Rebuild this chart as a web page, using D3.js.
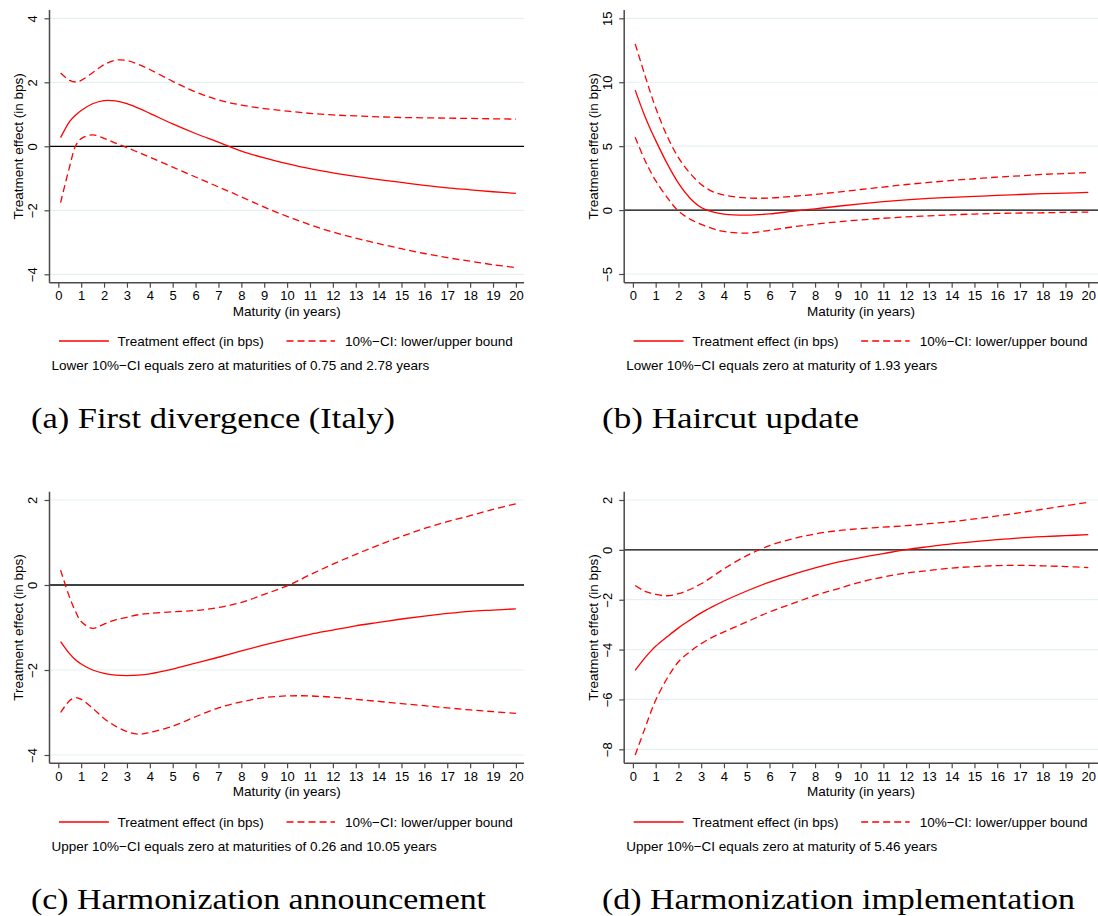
<!DOCTYPE html>
<html>
<head>
<meta charset="utf-8">
<script src="https://cdn.jsdelivr.net/npm/d3@7/dist/d3.min.js"></script>
<style>
  body { margin: 0; background: #fff; }
  svg { display: block; }
  text { font-family: "Liberation Sans", Arial, Helvetica, sans-serif; fill: #000; }
  text.caption { font-family: "Liberation Serif", "Times New Roman", serif; }
</style>
</head>
<body>
<svg id="chart" width="1098" height="916"></svg>
<script>
const maturities = [0.1, 0.5, 0.75, 1, 1.5, 2, 2.5, 3, 3.5, 4, 5, 6, 7, 8, 9, 10, 11, 12, 13, 14, 15, 16, 17, 18, 19, 20];

// (a) First divergence (Italy)
const effectA = [0.27, 0.78, 0.97, 1.12, 1.33, 1.43, 1.42, 1.33, 1.19, 1.03, 0.70, 0.40, 0.13, -0.15, -0.36, -0.54, -0.70, -0.83, -0.94, -1.04, -1.13, -1.22, -1.30, -1.36, -1.42, -1.47];
const upperA = [2.29, 2.06, 2.01, 2.06, 2.30, 2.55, 2.69, 2.68, 2.56, 2.40, 2.03, 1.70, 1.45, 1.29, 1.18, 1.10, 1.03, 0.98, 0.95, 0.92, 0.90, 0.89, 0.88, 0.87, 0.86, 0.85];
const lowerA = [-1.76, -0.62, 0.0, 0.24, 0.36, 0.25, 0.10, -0.04, -0.19, -0.34, -0.65, -0.96, -1.27, -1.58, -1.90, -2.19, -2.45, -2.68, -2.87, -3.04, -3.20, -3.35, -3.48, -3.59, -3.70, -3.79];

// (b) Haircut update
const effectB = [9.38, 7.45, 6.4, 5.45, 3.65, 2.1, 0.95, 0.2, -0.15, -0.32, -0.4, -0.3, -0.1, 0.1, 0.3, 0.49, 0.66, 0.8, 0.91, 0.99, 1.07, 1.15, 1.22, 1.28, 1.33, 1.38];
const upperB = [13.0, 10.7, 9.3, 8.0, 5.8, 4.1, 2.9, 2.0, 1.45, 1.17, 0.95, 0.94, 1.07, 1.22, 1.41, 1.61, 1.80, 2.0, 2.16, 2.32, 2.45, 2.58, 2.68, 2.79, 2.86, 2.94];
const lowerB = [5.7, 4.0, 3.1, 2.3, 1.0, -0.08, -0.7, -1.12, -1.45, -1.67, -1.8, -1.58, -1.32, -1.10, -0.92, -0.77, -0.64, -0.53, -0.45, -0.37, -0.31, -0.26, -0.23, -0.21, -0.18, -0.16];

// (c) Harmonization announcement
const effectC = [-1.33, -1.62, -1.76, -1.86, -2.0, -2.08, -2.12, -2.13, -2.12, -2.09, -1.98, -1.84, -1.70, -1.55, -1.41, -1.28, -1.16, -1.06, -0.96, -0.88, -0.80, -0.73, -0.67, -0.62, -0.59, -0.56];
const upperC = [0.35, -0.30, -0.62, -0.86, -1.02, -0.92, -0.82, -0.76, -0.70, -0.67, -0.63, -0.60, -0.53, -0.41, -0.22, -0.02, 0.24, 0.49, 0.72, 0.94, 1.14, 1.33, 1.49, 1.63, 1.78, 1.91];
const lowerC = [-3.0, -2.72, -2.65, -2.69, -2.90, -3.14, -3.32, -3.45, -3.51, -3.47, -3.32, -3.10, -2.89, -2.75, -2.65, -2.61, -2.61, -2.64, -2.69, -2.74, -2.79, -2.84, -2.89, -2.94, -2.98, -3.02];

// (d) Harmonization implementation
const effectD = [-4.83, -4.36, -4.1, -3.87, -3.49, -3.13, -2.82, -2.53, -2.28, -2.05, -1.65, -1.29, -0.99, -0.72, -0.49, -0.31, -0.15, 0.01, 0.13, 0.24, 0.33, 0.41, 0.48, 0.53, 0.57, 0.61];
const upperD = [-1.43, -1.65, -1.73, -1.79, -1.84, -1.76, -1.59, -1.36, -1.07, -0.76, -0.23, 0.17, 0.44, 0.64, 0.77, 0.85, 0.91, 0.97, 1.05, 1.13, 1.24, 1.36, 1.49, 1.63, 1.77, 1.91];
const lowerD = [-8.23, -7.23, -6.6, -6.03, -5.16, -4.49, -4.09, -3.76, -3.50, -3.29, -2.89, -2.49, -2.16, -1.83, -1.56, -1.29, -1.09, -0.93, -0.83, -0.73, -0.67, -0.63, -0.62, -0.64, -0.67, -0.71];

// tick labels
const xTicks = d3.range(0, 21);
const yTicksA = [-4, -2, 0, 2, 4];
const yTicksB = [-5, 0, 5, 10, 15];
const yTicksC = [-4, -2, 0, 2];
const yTicksD = [-8, -6, -4, -2, 0, 2];

// texts
const legendLabels = ['Treatment effect (in bps)', '10%\u2212CI: lower/upper bound'];
const notes = [
  'Lower 10%\u2212CI equals zero at maturities of 0.75 and 2.78 years',
  'Lower 10%\u2212CI equals zero at maturity of 1.93 years',
  'Upper 10%\u2212CI equals zero at maturities of 0.26 and 10.05 years',
  'Upper 10%\u2212CI equals zero at maturity of 5.46 years'
];
const captions = ['(a) First divergence (Italy)', '(b) Haircut update', '(c) Harmonization announcement', '(d) Harmonization implementation'];

// layout of the four panels
const panels = [
  { effect: effectA, upper: upperA, lower: lowerA, yTicks: yTicksA, note: notes[0], caption: captions[0],
    left: 49.5, right: 524, x0: 58.3, x20: 515.9, top: 10, bottom: 282.7, yLo: 274.3, yHi: 18.3,
    legendY: 341, noteY: 365, capX: 31, capY: 428, capW: 364 },
  { effect: effectB, upper: upperB, lower: lowerB, yTicks: yTicksB, note: notes[1], caption: captions[1],
    left: 624.2, right: 1098, x0: 632.9, x20: 1088.3, top: 10, bottom: 282.7, yLo: 274, yHi: 18.3,
    legendY: 341, noteY: 365, capX: 602, capY: 428, capW: 257 },
  { effect: effectC, upper: upperC, lower: lowerC, yTicks: yTicksC, note: notes[2], caption: captions[2],
    left: 49.5, right: 524, x0: 58.3, x20: 515.9, top: 491.7, bottom: 763.3, yLo: 755, yHi: 500,
    legendY: 822, noteY: 846, capX: 31, capY: 909, capW: 455 },
  { effect: effectD, upper: upperD, lower: lowerD, yTicks: yTicksD, note: notes[3], caption: captions[3],
    left: 624.2, right: 1098, x0: 632.9, x20: 1088.3, top: 491.7, bottom: 763.3, yLo: 749.3, yHi: 500,
    legendY: 822, noteY: 846, capX: 602, capY: 909, capW: 473 }
];

const RED = '#ff0000';
const DASH = '7,4';
const AXIS = '#4a4a4a';

const svg = d3.select('#chart');

function minusFmt(v) {
  return v < 0 ? '\u2212' + Math.abs(v) : String(v);
}

function drawPanel(p) {
  const g = svg.append('g');
  const x = d3.scaleLinear().domain([0, 20]).range([p.x0, p.x20]);
  const yMin = d3.min(p.yTicks), yMax = d3.max(p.yTicks);
  const y = d3.scaleLinear().domain([yMin, yMax]).range([p.yLo, p.yHi]);

  // grid lines
  g.selectAll('.grid')
    .data(p.yTicks.filter(v => v !== 0))
    .enter().append('line')
    .attr('x1', p.left).attr('x2', p.right)
    .attr('y1', d => y(d)).attr('y2', d => y(d))
    .attr('stroke', '#e6eff1')
    .attr('stroke-width', 1.2);

  // zero line
  g.append('line')
    .attr('x1', p.left).attr('x2', p.right)
    .attr('y1', y(0)).attr('y2', y(0))
    .attr('stroke', '#000')
    .attr('stroke-width', 1.3);

  // x axis
  const xa = g.append('g')
    .attr('transform', `translate(0,${p.bottom})`)
    .call(d3.axisBottom(x).tickValues(xTicks).tickSize(5).tickPadding(4).tickFormat(d3.format('d')));
  xa.select('.domain').remove();
  xa.selectAll('.tick line').attr('stroke', AXIS).attr('stroke-width', 1.2);
  xa.selectAll('.tick text')
    .attr('dy', 0).attr('y', 17.3)
    .style('font-size', '13px')
    .style('font-family', '"Liberation Sans", Arial, sans-serif')
    .attr('fill', '#000');
  g.append('line')
    .attr('x1', p.left).attr('x2', p.right)
    .attr('y1', p.bottom).attr('y2', p.bottom)
    .attr('stroke', AXIS).attr('stroke-width', 1.5);

  // y axis
  const ya = g.append('g')
    .attr('transform', `translate(${p.left},0)`)
    .call(d3.axisLeft(y).tickValues(p.yTicks).tickSize(5).tickFormat(minusFmt));
  ya.select('.domain').remove();
  ya.selectAll('.tick line').attr('stroke', AXIS).attr('stroke-width', 1.2);
  ya.selectAll('.tick text')
    .attr('transform', 'rotate(-90)')
    .attr('x', 0).attr('y', -12.2).attr('dy', 0)
    .attr('text-anchor', 'middle')
    .style('font-size', '13px')
    .style('font-family', '"Liberation Sans", Arial, sans-serif')
    .attr('fill', '#000');
  g.append('line')
    .attr('x1', p.left).attr('x2', p.left)
    .attr('y1', p.top).attr('y2', p.bottom)
    .attr('stroke', AXIS).attr('stroke-width', 1.5);

  // axis titles
  g.append('text')
    .attr('transform', `translate(${p.left - 26.3},${(p.top + p.bottom) / 2}) rotate(-90)`)
    .attr('text-anchor', 'middle')
    .style('font-size', '13.5px')
    .text('Treatment effect (in bps)');
  g.append('text')
    .attr('x', (p.left + p.right) / 2)
    .attr('y', p.bottom + 33)
    .attr('text-anchor', 'middle')
    .style('font-size', '13.5px')
    .text('Maturity (in years)');

  // curves
  const line = d3.line()
    .x(d => x(d[0]))
    .y(d => y(d[1]))
    .curve(d3.curveCatmullRom.alpha(0.5));
  const series = [
    { vals: p.upper, dash: DASH },
    { vals: p.lower, dash: DASH },
    { vals: p.effect, dash: null }
  ];
  series.forEach(s => {
    g.append('path')
      .datum(maturities.map((m, i) => [m, s.vals[i]]))
      .attr('d', line)
      .attr('fill', 'none')
      .attr('stroke', RED)
      .attr('stroke-width', 1.3)
      .attr('stroke-dasharray', s.dash);
  });

  // legend
  const ly = p.legendY;
  g.append('line')
    .attr('x1', p.left + 9.5).attr('x2', p.left + 59.4)
    .attr('y1', ly).attr('y2', ly)
    .attr('stroke', RED).attr('stroke-width', 1.3);
  g.append('text')
    .attr('x', p.left + 68).attr('y', ly + 4.8)
    .style('font-size', '13.5px')
    .text(legendLabels[0]);
  g.append('line')
    .attr('x1', p.left + 237).attr('x2', p.left + 285.5)
    .attr('y1', ly).attr('y2', ly)
    .attr('stroke', RED).attr('stroke-width', 1.3)
    .attr('stroke-dasharray', DASH);
  g.append('text')
    .attr('x', p.left + 295.5).attr('y', ly + 4.8)
    .style('font-size', '13.5px')
    .text(legendLabels[1]);

  // note under the legend
  g.append('text')
    .attr('x', p.left + 2).attr('y', p.noteY + 4.8)
    .style('font-size', '13.5px')
    .text(p.note);

  // sub-figure caption
  g.append('text')
    .attr('class', 'caption')
    .attr('x', p.capX).attr('y', p.capY)
    .attr('textLength', p.capW)
    .attr('lengthAdjust', 'spacingAndGlyphs')
    .style('font-size', '30px')
    .text(p.caption);
}

panels.forEach(drawPanel);
</script>
</body>
</html>
